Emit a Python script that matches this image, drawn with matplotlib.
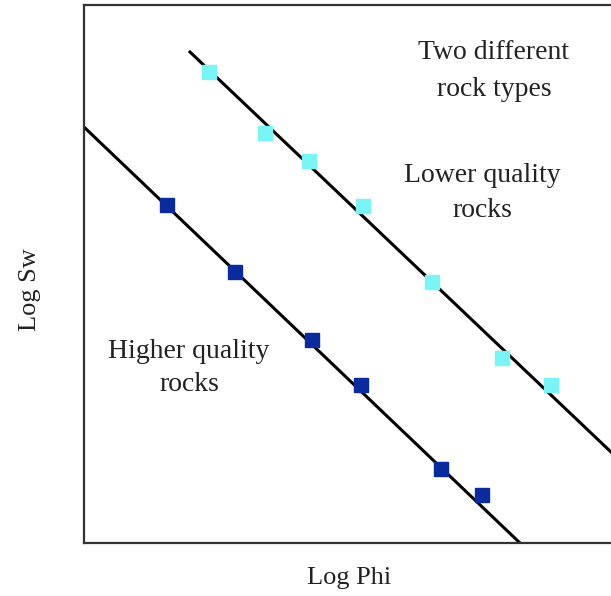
import matplotlib
matplotlib.use("Agg")
import matplotlib.pyplot as plt

# Log Phi / Log Sw (arbitrary units)
lower_x = [209, 265, 309, 363, 432, 502, 551]
lower_y = [524, 463, 435, 390, 314, 238, 211]
higher_x = [167, 235, 312, 361, 441, 482]
higher_y = [391, 324, 256, 211, 127, 101]

# trend lines for each rock type
lower_line_x = [190, 611]
lower_line_y = [544, 144]
higher_line_x = [85, 520]
higher_line_y = [468, 53]

FONT = "Liberation Serif"
CYAN = "#7af4f4"
NAVY = "#0b2a9e"

fig = plt.figure(figsize=(6.11, 5.96), dpi=100)
ax = fig.add_axes([84 / 611, 53 / 596, 527 / 611, 538 / 596])
ax.set_xlim(84, 611)
ax.set_ylim(53, 591)

ax.plot(lower_line_x, lower_line_y, color="black", linewidth=2.2, zorder=2)
ax.plot(higher_line_x, higher_line_y, color="black", linewidth=2.2, zorder=2)
ax.plot(lower_x, lower_y, "s", color=CYAN, markersize=10, zorder=3)
ax.plot(higher_x, higher_y, "s", color=NAVY, markersize=10, zorder=3)

ax.text(494, 525, "Two different\nrock types", ha="center", va="center",
        fontsize=20, family=FONT, color="#222222", multialignment="center",
        linespacing=1.6)
ax.text(482, 403, "Lower quality\nrocks", ha="center", va="center",
        fontsize=20, family=FONT, color="#222222", multialignment="center",
        linespacing=1.55)
ax.text(189, 228, "Higher quality\nrocks", ha="center", va="center",
        fontsize=20, family=FONT, color="#222222", multialignment="center",
        linespacing=1.4)

ax.set_xticks([])
ax.set_yticks([])
for side in ["left", "top", "bottom"]:
    ax.spines[side].set_linewidth(1.6)
    ax.spines[side].set_color("#333333")
ax.spines["right"].set_visible(False)

fig.text(349 / 611, 1 - 578 / 596, "Log Phi", ha="center", va="center",
         fontsize=19, family=FONT, color="#222222")
fig.text(30 / 611, 1 - 290 / 596, "Log Sw", ha="center", va="center",
         rotation=90, fontsize=19, family=FONT, color="#222222")

fig.savefig("out.png", dpi=100)
